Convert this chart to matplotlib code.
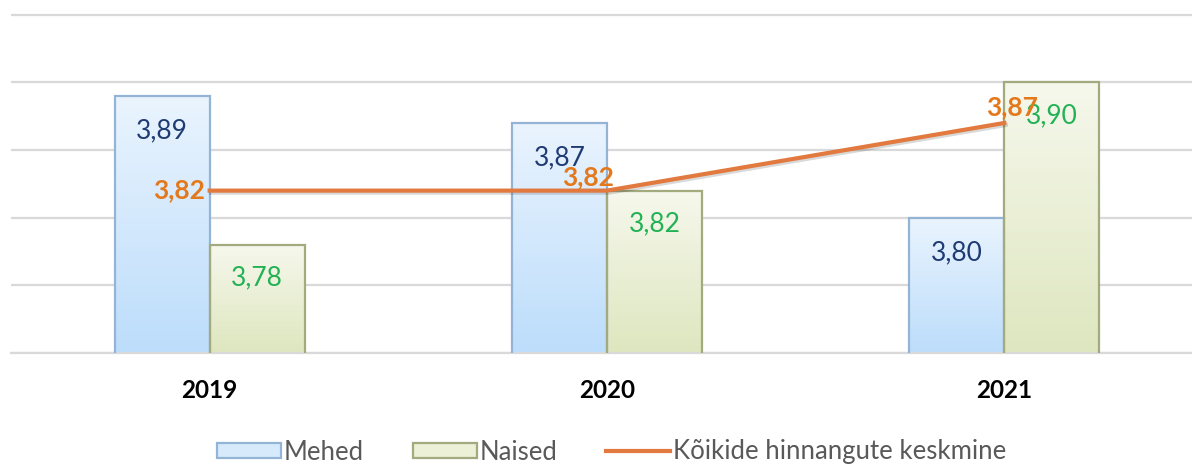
import numpy as np
import matplotlib.pyplot as plt
import matplotlib.patheffects as pe
from matplotlib.colors import LinearSegmentedColormap
from matplotlib.patches import Patch
from matplotlib.lines import Line2D

years = ["2019", "2020", "2021"]
mehed = [3.89, 3.87, 3.80]
naised = [3.78, 3.82, 3.90]
keskmine = [3.82, 3.82, 3.87]

plt.rcParams['font.family'] = ['Lato', 'DejaVu Sans']

fig = plt.figure(figsize=(11.92, 4.68), dpi=100)
ax = fig.add_axes([11 / 1192, 115 / 468, 1192 / 1192, 341 / 468])

x = np.arange(len(years))
w = 0.239
ymin, ymax = 3.70, 3.95

bars_m = ax.bar(x - w / 2, mehed, w, facecolor='none', edgecolor='#93B4D5', linewidth=1.6, zorder=3)
bars_n = ax.bar(x + w / 2, naised, w, facecolor='none', edgecolor='#A3AB7E', linewidth=1.6, zorder=3)


def gradient_fill(bars, top_color, bottom_color):
    cmap = LinearSegmentedColormap.from_list("g", [bottom_color, top_color])
    grad = np.linspace(0, 1, 256).reshape(-1, 1)
    for b in bars:
        bx, by = b.get_xy()
        im = ax.imshow(grad, cmap=cmap, origin='lower', aspect='auto', zorder=2,
                       extent=[bx, bx + b.get_width(), ymin, by + b.get_height()])
        im.set_clip_path(b)


gradient_fill(bars_m, '#EAF4FE', '#BCDDFB')
gradient_fill(bars_n, '#F6F8EC', '#DEE6BF')

ax.plot(x, keskmine, color='#E2793F', lw=3, zorder=4,
        path_effects=[pe.SimpleLineShadow(offset=(1, -1.5), alpha=0.15), pe.Normal()])

for xi, v in zip(x - w / 2, mehed):
    ax.annotate(f"{v:.2f}".replace('.', ','), (xi, v), xytext=(0, -35), textcoords='offset pixels',
                ha='center', va='center', fontsize=19, color='#1F3B73', zorder=5)
for xi, v in zip(x + w / 2, naised):
    ax.annotate(f"{v:.2f}".replace('.', ','), (xi, v), xytext=(0, -33), textcoords='offset pixels',
                ha='center', va='center', fontsize=19, color='#22B255', zorder=5)

avg_offsets = [(-31, 0), (-19, 13), (8, 16)]
for xi, v, off in zip(x, keskmine, avg_offsets):
    ax.annotate(f"{v:.2f}".replace('.', ','), (xi, v), xytext=off, textcoords='offset pixels',
                ha='center', va='center', fontsize=19, fontweight='bold', color='#E3791C', zorder=6)

ax.set_xlim(-0.5, 2.5)
ax.set_ylim(ymin, ymax + 0.002)
ax.set_yticks(np.arange(3.70, 3.96, 0.05))
ax.yaxis.grid(True, color='#D9D9D9', linewidth=1.6)
ax.set_axisbelow(True)
ax.tick_params(axis='y', length=0, labelleft=False)
ax.set_xticks(x, years)
ax.tick_params(axis='x', length=0, pad=19, labelsize=17.5)
for lbl in ax.get_xticklabels():
    lbl.set_fontweight('bold')
for s in ['top', 'right', 'left']:
    ax.spines[s].set_visible(False)
ax.spines['bottom'].set_color('#D9D9D9')
ax.spines['bottom'].set_linewidth(1.6)

handles = [Patch(facecolor='#D6EAFC', edgecolor='#93B4D5', linewidth=1.6, label='Mehed'),
           Patch(facecolor='#EBF0D6', edgecolor='#A3AB7E', linewidth=1.6, label='Naised'),
           Line2D([0], [0], color='#E2793F', lw=3, label='Kõikide hinnangute keskmine')]
fig.legend(handles=handles, loc='center', bbox_to_anchor=(0.513, 1 - 452 / 468), ncol=3,
           frameon=False, fontsize=18.5, handlelength=2.5, handleheight=0.55, handletextpad=0.1,
           columnspacing=1.9, labelcolor='#595959')

fig.savefig('out.png', dpi=100)
